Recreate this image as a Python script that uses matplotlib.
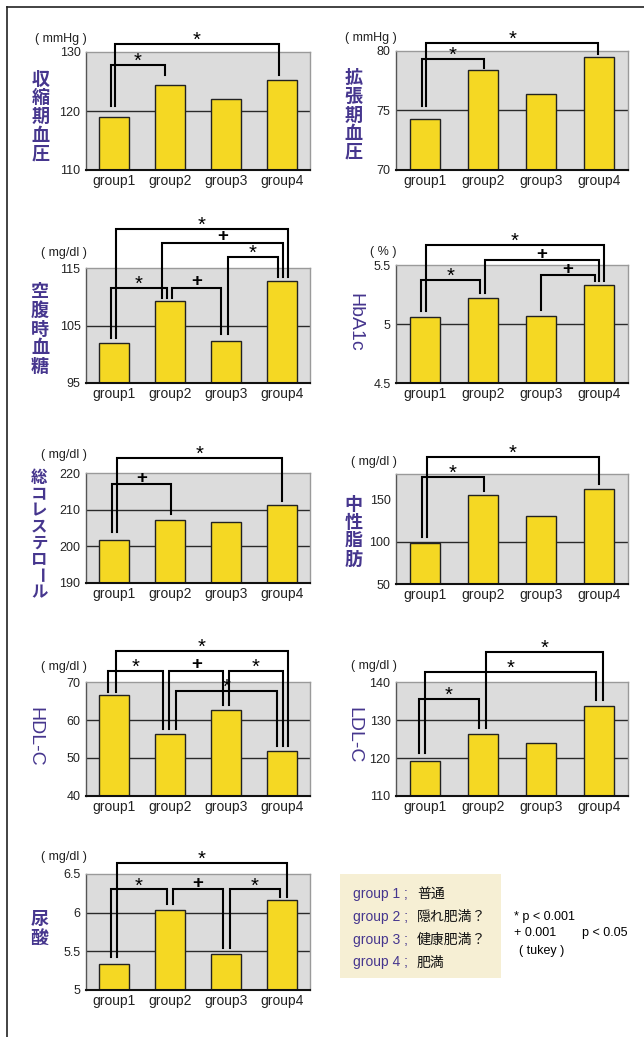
import matplotlib.pyplot as plt
from matplotlib.lines import Line2D
from matplotlib.patches import Rectangle

plt.rcParams['font.family'] = ['Liberation Sans', 'Noto Sans CJK JP', 'DejaVu Sans']

W, H = 644, 1037
PURPLE = "#46368E"
YELLOW = "#F5D823"

groups = ["group1", "group2", "group3", "group4"]
sbp = [118.9, 124.4, 122.0, 125.2]
dbp = [74.3, 78.4, 76.4, 79.5]
fbg = [102.0, 109.3, 102.3, 112.7]
hba1c = [5.06, 5.22, 5.07, 5.33]
tc = [201.8, 207.3, 206.7, 211.3]
tg = [98.3, 154.8, 130.1, 162.6]
hdl = [66.6, 56.2, 62.6, 51.9]
ldl = [119.3, 126.3, 124.1, 133.8]
ua = [5.34, 6.03, 5.47, 6.16]

legend_keys = ["group 1 ;", "group 2 ;", "group 3 ;", "group 4 ;"]
legend_desc = ["普通", "隠れ肥満？", "健康肥満？", "肥満"]

# significance brackets: (i, j, symbol, height) + leg offsets in px
br_sbp = [(0, 1, "*", 127.75, -3.5, -5), (0, 3, "*", 131.3, 0.8, -3.3)]
br_dbp = [(0, 1, "*", 79.33, -3.5, 0.8), (0, 3, "*", 80.65, 1.2, -0.8)]
br_fbg = [(0, 1, "*", 111.6, -3.5, -3.3), (1, 2, "+", 111.6, 1.7, -5.3),
          (2, 3, "*", 117.0, 1.7, -4.3), (1, 3, "+", 119.5, -7.7, 1.3),
          (0, 3, "*", 121.8, 1.5, 6.3)]
br_hba = [(0, 1, "*", 5.373, -4.2, -3.5), (2, 3, "+", 5.418, 0.3, -4.2),
          (1, 3, "+", 5.545, 1.5, -0.2), (0, 3, "*", 5.675, 0.8, 5.2)]
br_tc = [(0, 1, "+", 217.07, -2.5, 1), (0, 3, "*", 224.1, 3.2, -0.3)]
br_tg = [(0, 1, "*", 176.2, -3.5, 0.5), (0, 3, "*", 200, 1.8, 0.2)]
br_hdl = [(0, 1, "*", 73.07, -5.8, -6.7), (1, 2, "+", 73.07, -0.7, -2.7),
          (2, 3, "*", 73.07, 3.3, 0.7), (1, 3, "*", 67.7, 5.7, -5.3),
          (0, 3, "*", 78.36, 1.5, 6.3)]
br_ldl = [(0, 1, "*", 135.6, -6.5, -4), (0, 3, "*", 142.7, 0.2, -3.2),
          (1, 3, "*", 148.0, 2.6, 4.2)]
br_ua = [(0, 1, "*", 6.30, -3.5, -3.3), (1, 2, "+", 6.30, 2.7, -2.7),
         (2, 3, "*", 6.30, 4, -2), (0, 3, "*", 6.638, 3.2, 4.7)]

fig = plt.figure(figsize=(W / 100, H / 100), dpi=100)


def fy(py):
    return 1 - py / H


def panel(vals, rect, ylim, yticks, ytl, unit, brackets, gaps, label, lab_xy,
          step=18.5, fs=13, rotated=False, unit_dy=14):
    l, t, r, b = rect
    ax = fig.add_axes([l / W, 1 - b / H, (r - l) / W, (b - t) / H])
    ax.set_facecolor("#DCDCDC")
    x = list(range(len(groups)))
    ax.bar(x, vals, width=0.52, color=YELLOW, edgecolor="#222222", linewidth=1, zorder=3)
    ax.set_xlim(-0.5, 3.5); ax.set_ylim(*ylim)
    ax.set_xticks(x); ax.set_xticklabels(groups, fontsize=10, color="#222222")
    ax.set_yticks(yticks); ax.set_yticklabels(ytl, fontsize=9, color="#222222")
    ax.tick_params(axis="x", length=0, pad=3)
    ax.tick_params(axis="y", length=0, pad=4)
    for yv in yticks[1:-1]:
        ax.axhline(yv, color="#2a2a2a", lw=1, zorder=1)
    for s in ["top", "right"]:
        ax.spines[s].set_color("#9a9a9a"); ax.spines[s].set_linewidth(1)
    ax.spines["left"].set_color("#555555"); ax.spines["left"].set_linewidth(1)
    ax.spines["bottom"].set_color("#111111"); ax.spines["bottom"].set_linewidth(1.5)
    ax.spines["bottom"].set_zorder(5)
    pxx = (r - l) / 4
    pxy = (b - t) / (ylim[1] - ylim[0])
    for i, j, sym, yb, dxi, dxj in brackets:
        xi = i + dxi / pxx; xj = j + dxj / pxx
        yi = vals[i] + gaps[i] / pxy; yj = vals[j] + gaps[j] / pxy
        ax.plot([xi, xi, xj, xj], [yi, yb, yb, yj], color="black", lw=1.5,
                clip_on=False, zorder=4, solid_joinstyle="miter")
        if sym == "*":
            ax.annotate(sym, ((xi + xj) / 2, yb), xytext=(0, 2.6), textcoords="offset points",
                        ha="center", va="center", fontsize=14.5, annotation_clip=False)
        else:
            ax.annotate(sym, ((xi + xj) / 2, yb), xytext=(0, 4.3), textcoords="offset points",
                        ha="center", va="center", fontsize=13.5, fontweight="bold",
                        annotation_clip=False)
    fig.text((l + 1) / W, fy(t - unit_dy), unit, ha="right", va="center", fontsize=9,
             color="#222222")
    cx, cy = lab_xy
    if rotated:
        fig.text(cx / W, fy(cy), label, rotation=-90, ha="center", va="center",
                 fontsize=14, color=PURPLE)
    else:
        n = len(label)
        for k, ch in enumerate(label):
            yy = cy + (k - (n - 1) / 2) * step
            fig.text(cx / W, fy(yy), ch, ha="center", va="center", fontsize=fs,
                     fontweight="bold", color=PURPLE, family="Noto Sans CJK JP",
                     rotation=(-90 if ch == "ー" else 0))
    return ax


panel(sbp, (86, 52, 310, 170), (110, 130), [110, 120, 130], ["110", "120", "130"], "( mmHg )",
      br_sbp, [11, 10, 6, 5], "収縮期血圧", (40.7, 116.5), 18.6, unit_dy=13)
panel(dbp, (396, 51, 628, 170), (70, 80), [70, 75, 80], ["70", "75", "80"], "( mmHg )",
      br_dbp, [13, 2.5, 5, 3.4], "拡張期血圧", (353.7, 115), 18.6, unit_dy=13)
panel(fbg, (86, 268.3, 310, 382.7), (95, 115), [95, 105, 115], ["95", "105", "115"], "( mg/dl )",
      br_fbg, [4.4, 3.3, 6.7, 4.6], "空腹時血糖", (40, 329), 18.5, unit_dy=15.5)
panel(hba1c, (396, 265.3, 628, 383.3), (4.5, 5.5), [4.5, 5, 5.5], ["4.5", "5", "5.5"], "( % )",
      br_hba, [6.6, 5.4, 5.7, 4], "HbA1c", (355.3, 322), rotated=True, unit_dy=13)
panel(tc, (86, 473.3, 310, 582.7), (190, 220), [190, 200, 210, 220], ["190", "200", "210", "220"],
      "( mg/dl )", br_tc, [8, 5.4, 5, 4.3], "総コレステロール", (39.3, 535), 16.25, fs=11.8,
      unit_dy=18)
panel(tg, (396, 474, 628, 584.3), (50, 180), [50, 100, 150], ["50", "100", "150"], "( mg/dl )",
      br_tg, [6, 4, 5, 4.7], "中性脂肪", (353.7, 531.5), 18.3, unit_dy=12)
panel(hdl, (86, 682.3, 310, 795.7), (40, 70), [40, 50, 60, 70], ["40", "50", "60", "70"], "( mg/dl )",
      br_hdl, [3.3, 5, 5.3, 5], "HDL-C", (35, 737), rotated=True, unit_dy=15.5)
panel(ldl, (396, 682.3, 628, 796), (110, 140), [110, 120, 130, 140], ["110", "120", "130", "140"],
      "( mg/dl )", br_ldl, [8, 6.6, 6, 6], "LDL-C", (353.7, 735.5), rotated=True, unit_dy=16)
panel(ua, (86, 874, 310, 990), (5, 6.5), [5, 5.5, 6, 6.5], ["5", "5.5", "6", "6.5"], "( mg/dl )",
      br_ua, [6.7, 6.7, 6, 3.4], "尿酸", (39.3, 929), 19, unit_dy=17)

# legend box
fig.add_artist(Rectangle((340 / W, fy(978.3)), (501 - 340) / W, (978.3 - 874) / H,
                         transform=fig.transFigure, facecolor="#F6EFD4", edgecolor="none"))
for k, (key, desc) in enumerate(zip(legend_keys, legend_desc)):
    yy = fy(894.3 + k * 22.7)
    fig.text(352.7 / W, yy, key, ha="left", va="center", fontsize=10, color=PURPLE)
    fig.text(417 / W, yy, desc, ha="left", va="center", fontsize=10, color="#111111",
             family=["Noto Sans CJK JP", "DejaVu Sans"])

fig.text(514 / W, fy(916.7), "* p < 0.001", ha="left", va="center", fontsize=9)
fig.text(514 / W, fy(933.3), "+ 0.001", ha="left", va="center", fontsize=9)
fig.text(582.3 / W, fy(933.3), "p < 0.05", ha="left", va="center", fontsize=9)
fig.text(519 / W, fy(950.7), "( tukey )", ha="left", va="center", fontsize=9)

# frame lines
fig.add_artist(Line2D([6.5 / W, 1], [fy(6.5), fy(6.5)], color="#222222", lw=1.2,
                      transform=fig.transFigure))
fig.add_artist(Line2D([6.5 / W, 6.5 / W], [fy(6.5), 0], color="#222222", lw=1.2,
                      transform=fig.transFigure))

fig.savefig("out.png", dpi=100)
